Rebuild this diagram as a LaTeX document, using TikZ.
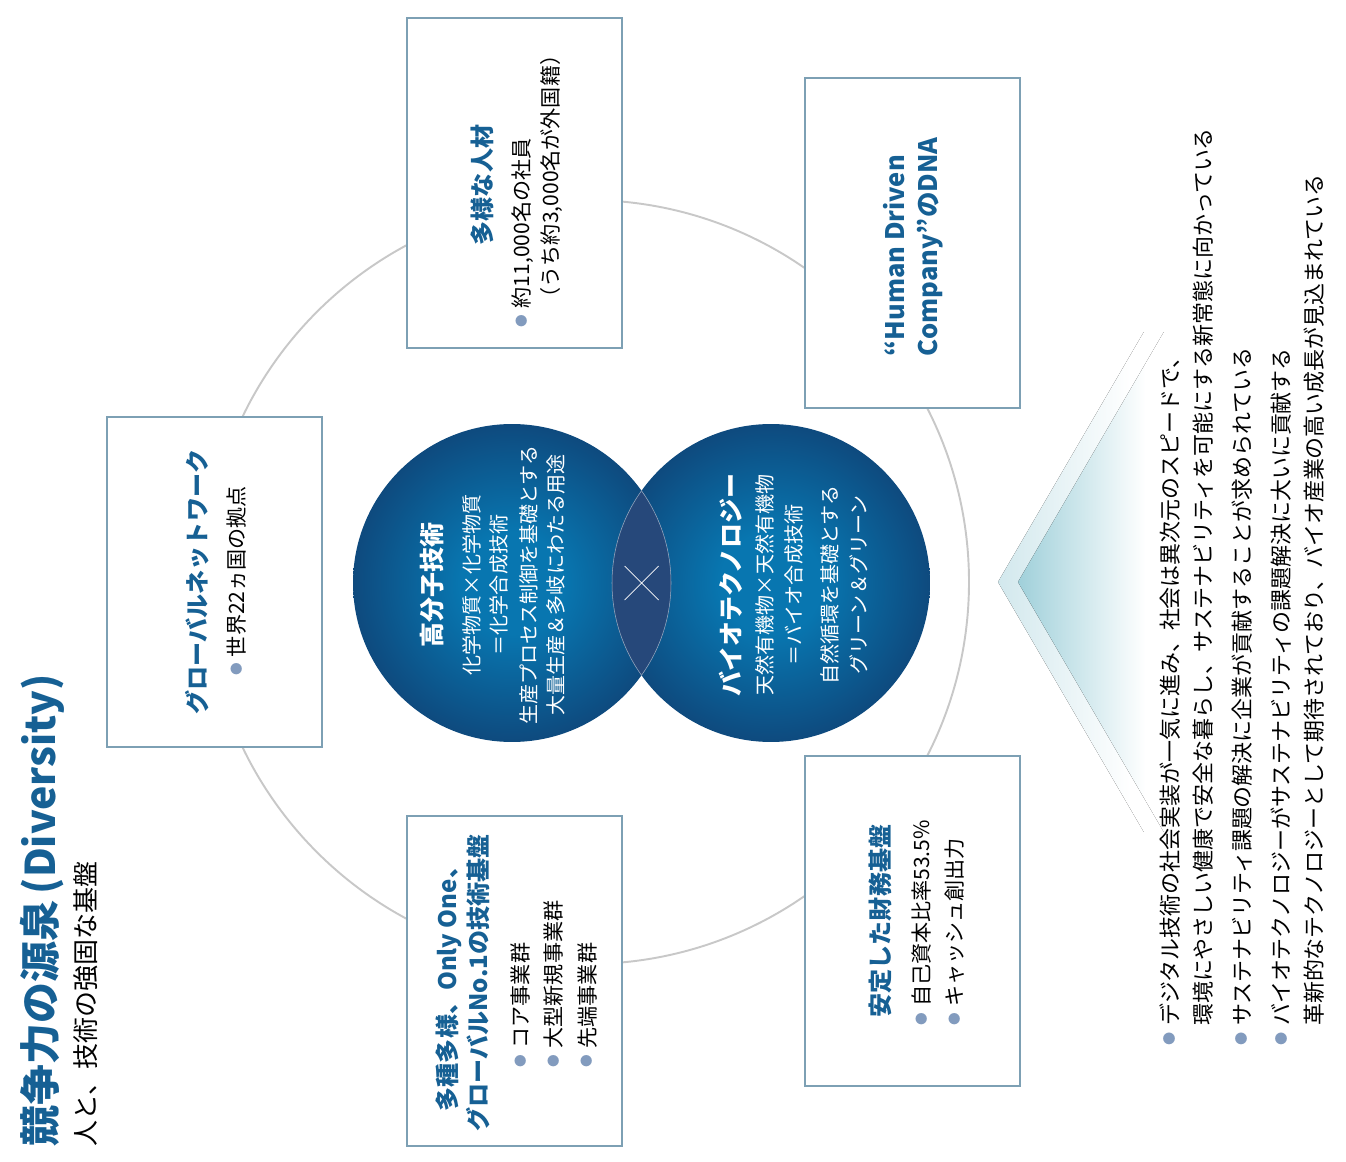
\documentclass[tikz,border=0pt]{standalone}
\usepackage{fontspec}
\setmainfont{Noto Sans CJK JP}
\definecolor{headblue}{RGB}{22,96,148}
\definecolor{panelline}{RGB}{125,160,180}
\definecolor{ringgray}{RGB}{200,200,200}
\definecolor{dotc}{RGB}{130,155,190}
\definecolor{venninner}{RGB}{8,118,176}
\definecolor{vennouter}{RGB}{14,74,126}
\definecolor{lensblue}{RGB}{38,72,122}
\definecolor{chevpale}{RGB}{210,232,237}
\definecolor{chevteal}{RGB}{160,208,218}
\pgfdeclareradialshading{vennball}{\pgfpoint{0bp}{0bp}}{color(0bp)=(venninner); color(8bp)=(venninner); color(25bp)=(vennouter); color(50bp)=(vennouter)}
\pgfdeclarehorizontalshading{chevband}{100bp}{color(0bp)=(chevpale); color(25bp)=(chevpale); color(58bp)=(white); color(100bp)=(white)}
\pgfdeclarehorizontalshading{chevcore}{100bp}{color(0bp)=(chevteal); color(25bp)=(chevteal); color(60bp)=(white); color(100bp)=(white)}
\newcommand\dotmark{\textcolor{dotc}{\raisebox{.15em}{\scalebox{.6}{●}}}\hspace{.3em}}
\newcommand\dotgap{\hphantom{\dotmark}}
\begin{document}
\begin{tikzpicture}[x=.02cm,y=.02cm,
    ring/.style={draw=ringgray,line width=1.1pt},
    panel/.style={draw=panelline,line width=.7pt,fill=white,minimum width=4.3cm,minimum height=6.6cm,inner sep=0},
    vert/.style={rotate=90,inner sep=0},
    head/.style={vert,text=headblue,align=center,font=\bfseries\fontsize{13.7pt}{17.6pt}\selectfont},
    body/.style={vert,align=left,font=\fontsize{12pt}{18.8pt}\selectfont},
    venn/.style={circle,shade,shading=vennball,minimum size=6.36cm,inner sep=0},
    lensedge/.style={draw=white!55!lensblue,line width=.3pt},
    venntext/.style={vert,text=white,align=center,font=\fontsize{11.4pt}{15.4pt}\selectfont}]
    \useasboundingbox (0,0) rectangle (1346,-1162);
    \draw[ring] (587,-582) circle (382);
    \foreach \n/\x/\y in {tal/514.5/183,dna/912.5/243,net/214.5/582,tech/514.5/981,fin/912.5/921}
        \node[panel] (\n) at (\x,-\y) {};
    \node[venn] (poly) at (512,-583) {};
    \node[venn] (bio) at (771,-583) {};
    \begin{scope}
        \clip (poly.center) circle (159);
        \fill[lensblue] (bio.center) circle (159);
        \draw[lensedge] (bio.center) circle (159);
    \end{scope}
    \begin{scope}
        \clip (bio.center) circle (159);
        \draw[lensedge] (poly.center) circle (159);
    \end{scope}
    \coordinate (cross) at (641.5,-583);
    \draw[white,line width=.4pt] (cross) +(-17,17) -- +(17,-17) (cross) +(-17,-17) -- +(17,17);
    \node[venntext] (polytext) at (492.5,-585) {{\bfseries\fontsize{14.2pt}{16pt}\selectfont 高分子技術}\\[6pt]
        化学物質×化学物質\\＝化学合成技術\\[1.7pt]
        生産プロセス制御を基礎とする\\大量生産＆多岐にわたる用途};
    \node[venntext,font=\fontsize{11.4pt}{16.8pt}\selectfont] (biotext) at (793.5,-585) {{\bfseries\fontsize{14.2pt}{16pt}\selectfont バイオテクノロジー}\\[1.5pt]
        天然有機物×天然有機物\\＝バイオ合成技術\\[3.5pt]
        自然循環を基礎とする\\グリーン＆グリーン};
    \node[vert,anchor=west,text=headblue,font=\bfseries\fontsize{23.3pt}{28pt}\selectfont] (title) at (42,-1147) {競争力の源泉\,(Diversity)};
    \node[vert,anchor=west,font=\fontsize{14.8pt}{18pt}\selectfont] (subtitle) at (86,-1147) {人と、技術の強固な基盤};
    \node[head] (taltitle) at (482,-185) {多様な人材};
    \node[body,font=\fontsize{12pt}{16.5pt}\selectfont] (talbody) at (537.5,-186) {\dotmark 約11,000名の社員\\\dotgap （うち約3,000名が外国籍）};
    \node[head,align=left,font=\bfseries\fontsize{14.5pt}{18.8pt}\selectfont] (dnatitle) at (913,-247) {“Human Driven\\Company”のDNA};
    \node[head] (nettitle) at (197,-582) {グローバルネットワーク};
    \node[body] (netbody) at (237,-581) {\dotmark 世界22ヵ国の拠点};
    \node[head] (techtitle) at (462.5,-983) {多種多様、Only One、\\グローバルNo.1の技術基盤};
    \node[body] (techbody) at (554,-984) {\dotmark コア事業群\\\dotmark 大型新規事業群\\\dotmark 先端事業群};
    \node[head] (fintitle) at (880,-921) {安定した財務基盤};
    \node[body] (finbody) at (938.5,-923) {\dotmark 自己資本比率53.5\%\\\dotmark キャッシュ創出力};
    \fill[shading=chevband] (998,-582) -- (1145,-330) -- (1200,-330) -- (1200,-834) -- (1145,-834) -- cycle;
    \fill[shading=chevcore] (1018,-582) -- (1165,-330) -- (1200,-330) -- (1200,-834) -- (1165,-834) -- cycle;
    \draw[white,line width=2pt] (1125,-330) -- (1200,-330) -- (1200,-834) -- (1125,-834);
    \node[body,anchor=north west,font=\fontsize{12.5pt}{18.8pt}\selectfont] (outlook) at (1159,-1046) {\dotmark デジタル技術の社会実装が一気に進み、社会は異次元のスピードで、\\
        \dotgap 環境にやさしい健康で安全な暮らし、サステナビリティを可能にする新常態に向かっている\\[3.5pt]
        \dotmark サステナビリティ課題の解決に企業が貢献することが求められている\\[3.5pt]
        \dotmark バイオテクノロジーがサステナビリティの課題解決に大いに貢献する\\
        \dotgap 革新的なテクノロジーとして期待されており、バイオ産業の高い成長が見込まれている};
\end{tikzpicture}
\end{document}
